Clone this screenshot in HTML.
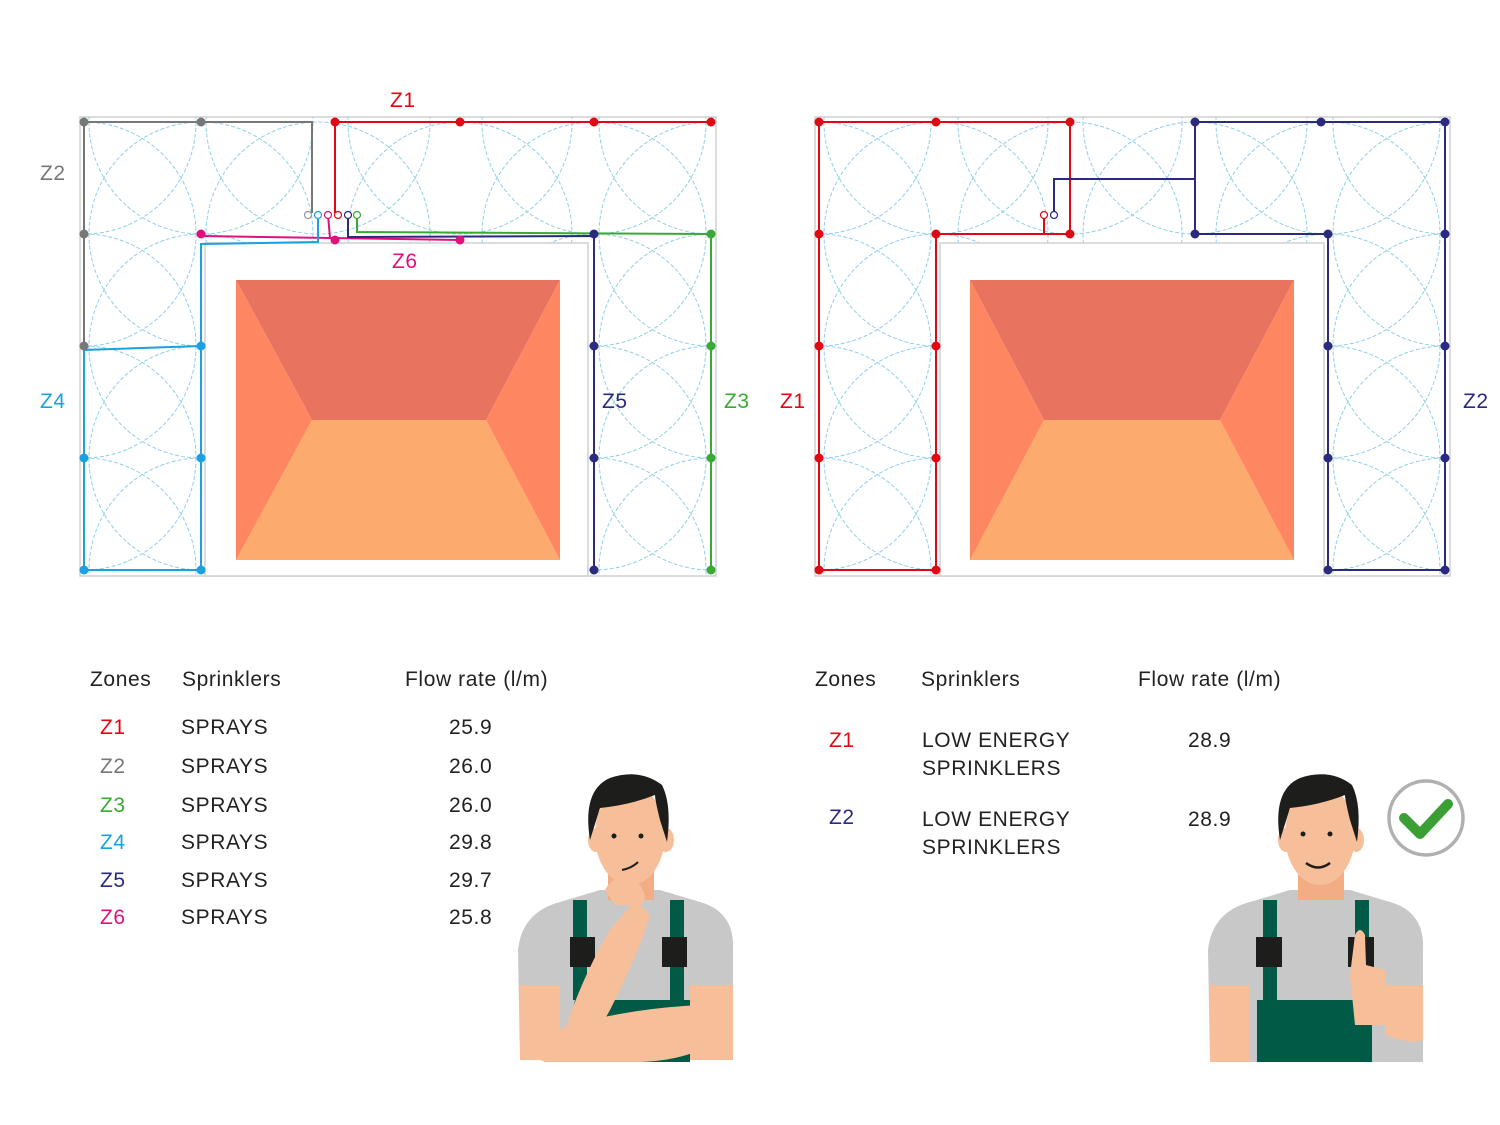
<!DOCTYPE html>
<html><head><meta charset="utf-8"><style>
body{margin:0;background:#fff;}
svg{display:block}
text{font-family:"Liberation Sans",sans-serif;letter-spacing:0.6px;}
</style></head><body>
<svg width="1500" height="1125" viewBox="0 0 1500 1125" xmlns="http://www.w3.org/2000/svg">
<defs>
<clipPath id="cl"><rect x="80" y="117" width="636" height="459"/></clipPath>
<clipPath id="cr"><rect x="815" y="117" width="635" height="459"/></clipPath>
</defs>

<!-- LEFT DIAGRAM -->
<rect x="80" y="117" width="636" height="459" fill="#fff" stroke="#d0d0d0" stroke-width="1.5"/>
<g clip-path="url(#cl)" fill="none" stroke="#8fd0e8" stroke-width="1" stroke-dasharray="4 2">
<circle cx="84" cy="122" r="112"/><circle cx="201" cy="122" r="112"/><circle cx="318" cy="122" r="112"/><circle cx="460" cy="122" r="112"/><circle cx="594" cy="122" r="112"/><circle cx="711" cy="122" r="112"/>
<circle cx="84" cy="234" r="112"/><circle cx="201" cy="234" r="112"/><circle cx="318" cy="234" r="112"/><circle cx="460" cy="234" r="112"/><circle cx="594" cy="234" r="112"/><circle cx="711" cy="234" r="112"/>
<circle cx="84" cy="346" r="112"/><circle cx="201" cy="346" r="112"/><circle cx="84" cy="458" r="112"/><circle cx="201" cy="458" r="112"/><circle cx="84" cy="570" r="112"/><circle cx="201" cy="570" r="112"/>
<circle cx="594" cy="346" r="112"/><circle cx="711" cy="346" r="112"/><circle cx="594" cy="458" r="112"/><circle cx="711" cy="458" r="112"/><circle cx="594" cy="570" r="112"/><circle cx="711" cy="570" r="112"/>
</g>
<rect x="205" y="243" width="383" height="333" fill="#fff" stroke="#d0d0d0" stroke-width="1.5"/>
<polygon points="236,280 560,280 486,420 312,420" fill="#e8735f"/>
<polygon points="312,420 486,420 560,560 236,560" fill="#fdaa6e"/>
<polygon points="236,280 312,420 236,560" fill="#fe8660"/>
<polygon points="560,280 486,420 560,560" fill="#fe8660"/>
<g fill="none" stroke-width="2">
<polyline points="84,346 84,122 312,122 312,213" stroke="#777"/>
<polyline points="711,122 335,122 335,213" stroke="#e30613"/>
<polyline points="201,236 460,240" stroke="#e0117f"/>
<polyline points="328,215 330,238" stroke="#e0117f"/>
<polyline points="201,346 84,350 84,570 201,570 201,244 318,242 318,215" stroke="#1aa1e0"/>
<polyline points="348,215 348,237 594,236 594,570" stroke="#2b2a7d"/>
<polyline points="357,215 357,232 711,234 711,570" stroke="#3aaa35"/>
</g>
<g fill="#777"><circle cx="84" cy="122" r="4.5"/><circle cx="201" cy="122" r="4.5"/><circle cx="84" cy="234" r="4.5"/><circle cx="84" cy="346" r="4.5"/></g>
<g fill="#e30613"><circle cx="335" cy="122" r="4.5"/><circle cx="460" cy="122" r="4.5"/><circle cx="594" cy="122" r="4.5"/><circle cx="711" cy="122" r="4.5"/></g>
<g fill="#e0117f"><circle cx="201" cy="234" r="4.5"/><circle cx="335" cy="240" r="4.5"/><circle cx="460" cy="240" r="4.5"/></g>
<g fill="#1aa1e0"><circle cx="201" cy="346" r="4.5"/><circle cx="84" cy="458" r="4.5"/><circle cx="201" cy="458" r="4.5"/><circle cx="84" cy="570" r="4.5"/><circle cx="201" cy="570" r="4.5"/></g>
<g fill="#2b2a7d"><circle cx="594" cy="234" r="4.5"/><circle cx="594" cy="346" r="4.5"/><circle cx="594" cy="458" r="4.5"/><circle cx="594" cy="570" r="4.5"/></g>
<g fill="#3aaa35"><circle cx="711" cy="234" r="4.5"/><circle cx="711" cy="346" r="4.5"/><circle cx="711" cy="458" r="4.5"/><circle cx="711" cy="570" r="4.5"/></g>
<g fill="#fff" stroke-width="1.2">
<circle cx="308" cy="215" r="3.5" stroke="#999"/><circle cx="318" cy="215" r="3.5" stroke="#1aa1e0"/><circle cx="328" cy="215" r="3.5" stroke="#e0117f"/><circle cx="338" cy="215" r="3.5" stroke="#e30613"/><circle cx="348" cy="215" r="3.5" stroke="#2b2a7d"/><circle cx="357" cy="215" r="3.5" stroke="#3aaa35"/>
</g>
<g font-size="21">
<text x="390" y="107" fill="#e30613">Z1</text>
<text x="40" y="180" fill="#777">Z2</text>
<text x="392" y="268" fill="#e0117f">Z6</text>
<text x="40" y="408" fill="#1aa1e0">Z4</text>
<text x="602" y="408" fill="#2b2a7d">Z5</text>
<text x="724" y="408" fill="#3aaa35">Z3</text>
</g>

<!-- RIGHT DIAGRAM -->
<rect x="815" y="117" width="635" height="459" fill="#fff" stroke="#d0d0d0" stroke-width="1.5"/>
<g clip-path="url(#cr)" fill="none" stroke="#8fd0e8" stroke-width="1" stroke-dasharray="4 2">
<circle cx="819" cy="122" r="112"/><circle cx="936" cy="122" r="112"/><circle cx="1070" cy="122" r="112"/><circle cx="1195" cy="122" r="112"/><circle cx="1328" cy="122" r="112"/><circle cx="1445" cy="122" r="112"/>
<circle cx="819" cy="234" r="112"/><circle cx="936" cy="234" r="112"/><circle cx="1070" cy="234" r="112"/><circle cx="1195" cy="234" r="112"/><circle cx="1328" cy="234" r="112"/><circle cx="1445" cy="234" r="112"/>
<circle cx="819" cy="346" r="112"/><circle cx="936" cy="346" r="112"/><circle cx="819" cy="458" r="112"/><circle cx="936" cy="458" r="112"/><circle cx="819" cy="570" r="112"/><circle cx="936" cy="570" r="112"/>
<circle cx="1328" cy="346" r="112"/><circle cx="1445" cy="346" r="112"/><circle cx="1328" cy="458" r="112"/><circle cx="1445" cy="458" r="112"/><circle cx="1328" cy="570" r="112"/><circle cx="1445" cy="570" r="112"/>
</g>
<rect x="940" y="243" width="384" height="333" fill="#fff" stroke="#d0d0d0" stroke-width="1.5"/>
<polygon points="970,280 1294,280 1220,420 1044,420" fill="#e8735f"/>
<polygon points="1044,420 1220,420 1294,560 970,560" fill="#fdaa6e"/>
<polygon points="970,280 1044,420 970,560" fill="#fe8660"/>
<polygon points="1294,280 1220,420 1294,560" fill="#fe8660"/>
<g fill="none" stroke-width="2">
<polyline points="819,122 1070,122 1070,234 936,234 936,570 819,570 819,122" stroke="#e30613"/>
<polyline points="1044,215 1044,234" stroke="#e30613"/>
<polyline points="1195,122 1445,122 1445,570 1328,570 1328,234 1195,234 1195,122" stroke="#2b2a7d"/>
<polyline points="1195,179 1054,179 1054,215" stroke="#2b2a7d"/>
</g>
<g fill="#e30613"><circle cx="819" cy="122" r="4.5"/><circle cx="936" cy="122" r="4.5"/><circle cx="1070" cy="122" r="4.5"/><circle cx="819" cy="234" r="4.5"/><circle cx="936" cy="234" r="4.5"/><circle cx="1070" cy="234" r="4.5"/><circle cx="819" cy="346" r="4.5"/><circle cx="936" cy="346" r="4.5"/><circle cx="819" cy="458" r="4.5"/><circle cx="936" cy="458" r="4.5"/><circle cx="819" cy="570" r="4.5"/><circle cx="936" cy="570" r="4.5"/></g>
<g fill="#2b2a7d"><circle cx="1195" cy="122" r="4.5"/><circle cx="1321" cy="122" r="4.5"/><circle cx="1445" cy="122" r="4.5"/><circle cx="1195" cy="234" r="4.5"/><circle cx="1328" cy="234" r="4.5"/><circle cx="1445" cy="234" r="4.5"/><circle cx="1328" cy="346" r="4.5"/><circle cx="1445" cy="346" r="4.5"/><circle cx="1328" cy="458" r="4.5"/><circle cx="1445" cy="458" r="4.5"/><circle cx="1328" cy="570" r="4.5"/><circle cx="1445" cy="570" r="4.5"/></g>
<g fill="#fff" stroke-width="1.2"><circle cx="1044" cy="215" r="3.5" stroke="#e30613"/><circle cx="1054" cy="215" r="3.5" stroke="#2b2a7d"/></g>
<g font-size="21">
<text x="780" y="408" fill="#e30613">Z1</text>
<text x="1463" y="408" fill="#2b2a7d">Z2</text>
</g>

<!-- TABLES -->
<g font-size="21" fill="#222">
<text x="90" y="686">Zones</text><text x="182" y="686">Sprinklers</text><text x="405" y="686">Flow rate (l/m)</text>
<text x="100" y="734" fill="#e30613">Z1</text><text x="181" y="734">SPRAYS</text><text x="449" y="734">25.9</text>
<text x="100" y="773" fill="#777">Z2</text><text x="181" y="773">SPRAYS</text><text x="449" y="773">26.0</text>
<text x="100" y="812" fill="#3aaa35">Z3</text><text x="181" y="812">SPRAYS</text><text x="449" y="812">26.0</text>
<text x="100" y="849" fill="#1aa1e0">Z4</text><text x="181" y="849">SPRAYS</text><text x="449" y="849">29.8</text>
<text x="100" y="887" fill="#2b2a7d">Z5</text><text x="181" y="887">SPRAYS</text><text x="449" y="887">29.7</text>
<text x="100" y="924" fill="#e0117f">Z6</text><text x="181" y="924">SPRAYS</text><text x="449" y="924">25.8</text>

<text x="815" y="686">Zones</text><text x="921" y="686">Sprinklers</text><text x="1138" y="686">Flow rate (l/m)</text>
<text x="829" y="747" fill="#e30613">Z1</text><text x="922" y="747">LOW ENERGY</text><text x="922" y="775">SPRINKLERS</text><text x="1188" y="747">28.9</text>
<text x="829" y="824" fill="#2b2a7d">Z2</text><text x="922" y="826">LOW ENERGY</text><text x="922" y="854">SPRINKLERS</text><text x="1188" y="826">28.9</text>
</g>

<!-- LEFT PERSON -->
<g>
<path d="M520,1060 L518,950 Q522,912 560,902 L600,890 L660,890 L700,902 Q735,912 733,950 L733,1060 Z" fill="#c8c8c8"/>
<rect x="520" y="985" width="40" height="75" fill="#f7be9a"/>
<rect x="690" y="985" width="43" height="75" fill="#f7be9a"/>
<rect x="573" y="900" width="14" height="100" fill="#005a45"/>
<rect x="670" y="900" width="14" height="100" fill="#005a45"/>
<rect x="570" y="937" width="25" height="30" fill="#1d1d1b"/>
<rect x="662" y="937" width="25" height="30" fill="#1d1d1b"/>
<path d="M575,1000 L690,1000 L690,1062 L560,1062 Z" fill="#005a45"/>
<path d="M530,1040 Q600,1010 700,1005 L730,1030 Q700,1060 640,1062 L545,1062 Q525,1055 530,1040 Z" fill="#f7be9a"/>
<path d="M560,1045 Q580,980 610,930 L635,900 L650,915 Q640,950 610,1010 L585,1055 Z" fill="#f7be9a"/>
<rect x="608" y="860" width="46" height="40" fill="#f2ad85"/>
<ellipse cx="630" cy="835" rx="35" ry="50" fill="#f7be9a"/>
<ellipse cx="596" cy="840" rx="8" ry="12" fill="#f7be9a"/>
<ellipse cx="666" cy="840" rx="8" ry="12" fill="#f7be9a"/>
<path d="M590,840 Q582,790 610,778 Q640,768 662,785 Q672,805 667,842 L660,820 Q655,800 655,795 Q630,805 600,808 Z" fill="#1d1d1b"/>
<circle cx="614" cy="836" r="2.5" fill="#1d1d1b"/><circle cx="641" cy="836" r="2.5" fill="#1d1d1b"/>
<path d="M622,870 Q632,868 638,862" stroke="#1d1d1b" stroke-width="2" fill="none"/>
<path d="M605,890 Q615,870 640,885 Q650,900 640,905 L615,905 Z" fill="#f7be9a"/>
</g>

<!-- RIGHT PERSON -->
<g>
<path d="M1210,1062 L1208,950 Q1212,912 1250,902 L1290,890 L1350,890 L1390,902 Q1425,912 1423,950 L1423,1062 Z" fill="#c8c8c8"/>
<rect x="1210" y="985" width="40" height="77" fill="#f7be9a"/>
<rect x="1263" y="900" width="14" height="100" fill="#005a45"/>
<rect x="1355" y="900" width="14" height="100" fill="#005a45"/>
<rect x="1256" y="937" width="26" height="30" fill="#1d1d1b"/>
<rect x="1348" y="937" width="26" height="30" fill="#1d1d1b"/>
<rect x="1257" y="1000" width="115" height="62" fill="#005a45"/>
<path d="M1385,985 L1423,985 L1423,1040 Q1410,1045 1385,1035 Z" fill="#f7be9a"/>
<path d="M1350,975 L1355,935 Q1360,925 1365,935 L1366,965 L1385,970 L1388,1025 L1355,1025 Z" fill="#f7be9a"/>
<rect x="1298" y="860" width="46" height="40" fill="#f2ad85"/>
<ellipse cx="1320" cy="835" rx="35" ry="50" fill="#f7be9a"/>
<ellipse cx="1286" cy="840" rx="8" ry="12" fill="#f7be9a"/>
<ellipse cx="1356" cy="840" rx="8" ry="12" fill="#f7be9a"/>
<path d="M1280,840 Q1272,790 1300,778 Q1330,768 1352,785 Q1362,805 1357,842 L1350,820 Q1345,800 1345,795 Q1320,805 1290,808 Z" fill="#1d1d1b"/>
<circle cx="1303" cy="834" r="2.5" fill="#1d1d1b"/><circle cx="1330" cy="834" r="2.5" fill="#1d1d1b"/>
<path d="M1306,863 Q1318,872 1330,863" stroke="#1d1d1b" stroke-width="2.5" fill="none"/>
</g>

<!-- CHECK -->
<circle cx="1426" cy="818" r="37" fill="#fff" stroke="#b0b0b0" stroke-width="3.5"/>
<polyline points="1404,818 1420,834 1448,804" fill="none" stroke="#3aa035" stroke-width="10" stroke-linecap="round" stroke-linejoin="round"/>
</svg>
</body></html>
